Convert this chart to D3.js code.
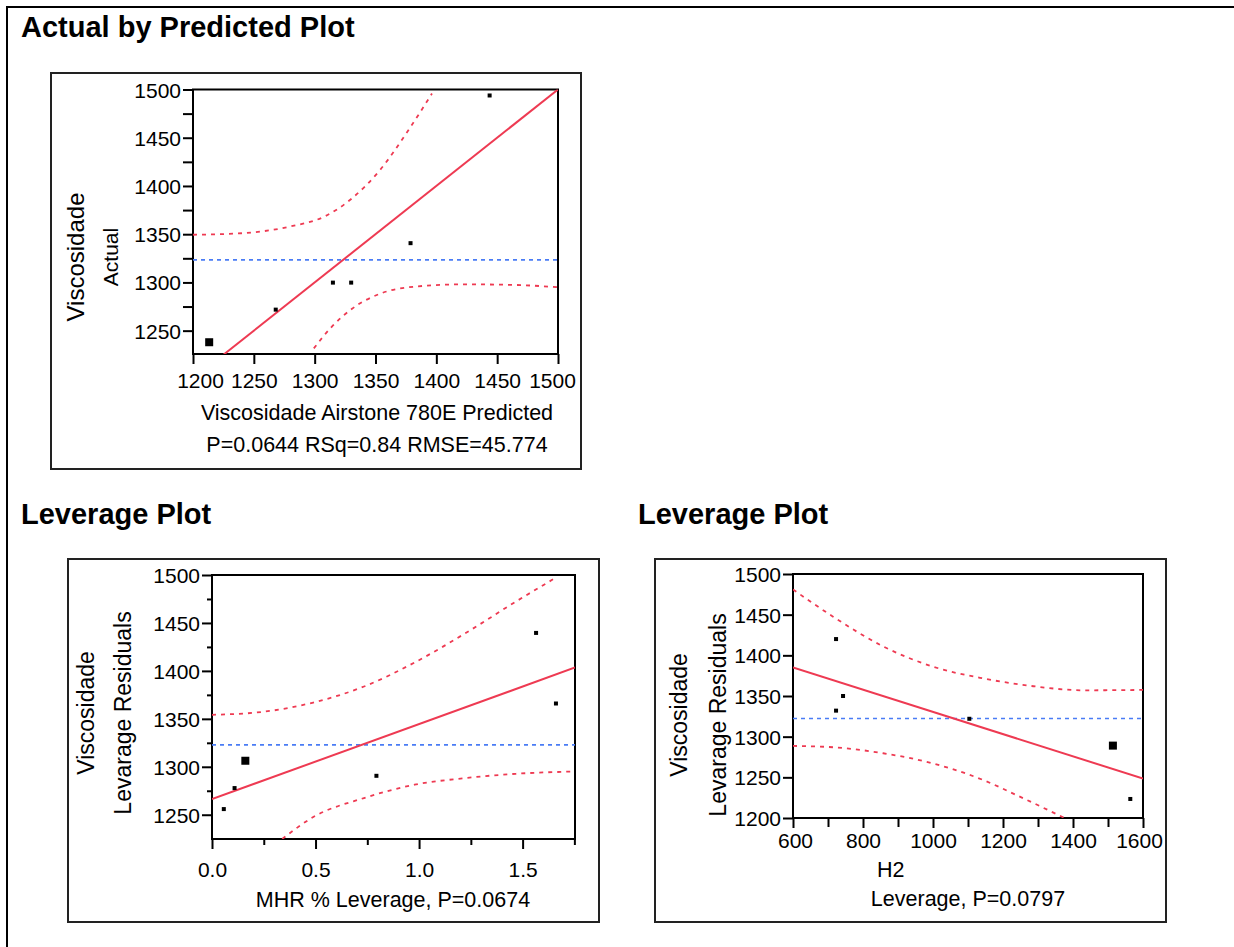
<!DOCTYPE html>
<html>
<head>
<meta charset="utf-8">
<script src="https://cdn.jsdelivr.net/npm/d3@7"></script>
<style>
  body { margin: 0; background: #fff; }
  svg text { font-family: "Liberation Sans", Arial, sans-serif; fill: #000; }
</style>
</head>
<body>
<div id="chart"></div>
<script>
/* DATA */

// Actual by Predicted
var apPred    = [1213.3, 1268, 1315, 1330, 1378.8, 1443.8];
var apActual  = [1238, 1271.8, 1299.8, 1299.8, 1340.7, 1493.8];
var apWeight  = [2, 1, 1, 1, 1, 1];
var apMean    = 1323.4;
var apFitX    = [1200, 1500];
var apFitY    = [1200, 1500];
var apUpperX  = [1200, 1240, 1280, 1308.4, 1331, 1354, 1376.6, 1396.4];
var apUpperY  = [1349.4, 1351, 1358, 1368.5, 1387.5, 1417, 1457, 1495.8];
var apLowerX  = [1299.3, 1314, 1331, 1354, 1382, 1422, 1464.5, 1500];
var apLowerY  = [1231.6, 1254, 1273, 1288.4, 1295.6, 1298, 1297.4, 1295];
var apXTicks  = [1200, 1250, 1300, 1350, 1400, 1450, 1500];
var apYTicks  = [1250, 1300, 1350, 1400, 1450, 1500];

// Leverage plot: MHR %
var mhrX      = [0.057, 0.109, 0.161, 0.794, 1.565, 1.661];
var mhrY      = [1255.9, 1277.8, 1306.3, 1290.6, 1439.6, 1366];
var mhrWeight = [1, 1, 2, 1, 1, 1];
var mhrMean   = 1322.9;
var mhrFitX   = [0, 1.753];
var mhrFitY   = [1266.3, 1403.5];
var mhrUpperX = [0, 0.245, 0.489, 0.734, 0.978, 1.223, 1.467, 1.647];
var mhrUpperY = [1354.2, 1357.3, 1367, 1383.7, 1408.7, 1439.2, 1472.2, 1495.5];
var mhrLowerX = [0.339, 0.489, 0.734, 0.978, 1.223, 1.467, 1.753];
var mhrLowerY = [1224.7, 1247.6, 1267.4, 1281.3, 1288.2, 1292.7, 1295.1];
var mhrXTicks = [0, 0.5, 1.0, 1.5];
var mhrXMinor = [0.25, 0.75, 1.25, 1.75];
var mhrYTicks = [1250, 1300, 1350, 1400, 1450, 1500];

// Leverage plot: H2
var h2X       = [723, 743, 723, 1103.8, 1514, 1563.7];
var h2Y       = [1420, 1350, 1332, 1322, 1289, 1223.4];
var h2Weight  = [1, 1, 1, 1, 2, 1];
var h2Mean    = 1322.3;
var h2FitX    = [600, 1600];
var h2FitY    = [1385, 1248.5];
var h2UpperX  = [600, 714.5, 857.6, 1000.8, 1143.9, 1287, 1430, 1600];
var h2UpperY  = [1481, 1447.5, 1411, 1386, 1371.6, 1362, 1357, 1357.5];
var h2LowerX  = [600, 714.5, 857.6, 1000.8, 1143.9, 1239.3, 1375.8];
var h2LowerY  = [1288.6, 1287, 1279.6, 1267, 1246.6, 1228, 1200];
var h2XTicks  = [600, 800, 1000, 1200, 1400, 1600];
var h2XMinor  = [700, 900, 1100, 1300, 1500];
var h2YTicks  = [1200, 1250, 1300, 1350, 1400, 1450, 1500];

var RED = "#ee3a52";
var BLUE = "#4a7cf5";

/* SVG CANVAS */
var width = 1234, height = 947;
var svg = d3.select("#chart")
    .append("svg")
    .attr("width", width)
    .attr("height", height);

// outer report frame
svg.append("path")
    .attr("d", "M7," + height + "V7H" + width)
    .attr("fill", "none")
    .attr("stroke", "#000")
    .attr("stroke-width", 2);

// section titles
svg.append("text").attr("x", 21).attr("y", 37)
    .style("font-weight", "bold").style("font-size", "29px")
    .text("Actual by Predicted Plot");
svg.append("text").attr("x", 21).attr("y", 524)
    .style("font-weight", "bold").style("font-size", "29px")
    .text("Leverage Plot");
svg.append("text").attr("x", 638).attr("y", 524)
    .style("font-weight", "bold").style("font-size", "29px")
    .text("Leverage Plot");

function zip(xs, ys) {
    return xs.map(function(x, i) { return [x, ys[i]]; });
}

var panelId = 0;
function drawPanel(p) {
    panelId++;
    // framed box around the plot
    svg.append("rect")
        .attr("x", p.box[0]).attr("y", p.box[1])
        .attr("width", p.box[2] - p.box[0]).attr("height", p.box[3] - p.box[1])
        .attr("fill", "none").attr("stroke", "#222").attr("stroke-width", 2);

    var x = d3.scaleLinear().domain(p.xDomain).range([p.plot[0], p.plot[2]]);
    var y = d3.scaleLinear().domain(p.yDomain).range([p.plot[3], p.plot[1]]);

    var clipId = "clip" + panelId;
    svg.append("clipPath").attr("id", clipId)
        .append("rect")
        .attr("x", p.plot[0]).attr("y", p.plot[1])
        .attr("width", p.plot[2] - p.plot[0]).attr("height", p.plot[3] - p.plot[1]);

    // y axis
    var yAxis = d3.axisLeft(y).tickValues(p.yTicks).tickSize(p.tickLen).tickPadding(2)
        .tickFormat(d3.format("d"));
    var gy = svg.append("g")
        .attr("transform", "translate(" + p.plot[0] + ",0)")
        .call(yAxis);
    if (p.yMinor) {
        svg.append("g")
            .attr("transform", "translate(" + p.plot[0] + ",0)")
            .call(d3.axisLeft(y).tickValues(p.yMinor).tickSize(p.yMinorLen).tickFormat(""))
            .call(function(g) { g.select(".domain").remove(); });
    }
    // x axis
    var xAxis = d3.axisBottom(x).tickValues(p.xTicks).tickSize(p.tickLen).tickPadding(4)
        .tickFormat(p.xFormat);
    var gx = svg.append("g")
        .attr("transform", "translate(0," + p.plot[3] + ")")
        .call(xAxis);
    if (p.xMinor) {
        svg.append("g")
            .attr("transform", "translate(0," + p.plot[3] + ")")
            .call(d3.axisBottom(x).tickValues(p.xMinor).tickSize(p.xMinorLen).tickFormat(""))
            .call(function(g) { g.select(".domain").remove(); });
    }
    svg.selectAll(".tick line").attr("stroke", "#000").attr("stroke-width", 2);
    [gx, gy].forEach(function(g) {
        g.select(".domain").remove();
        g.selectAll("text").style("font-size", "21px").attr("fill", "#000");
    });
    gy.selectAll("text").attr("dy", "0.36em");
    gx.selectAll("text").attr("dy", "0").attr("y", p.xLabelBase - p.plot[3]);
    if (p.xEndShift) {
        var xt = gx.selectAll("text").nodes();
        d3.select(xt[0]).attr("dx", p.xEndShift[0]);
        d3.select(xt[xt.length - 1]).attr("dx", p.xEndShift[1]);
    }

    // plot frame
    svg.append("rect")
        .attr("x", p.plot[0]).attr("y", p.plot[1])
        .attr("width", p.plot[2] - p.plot[0]).attr("height", p.plot[3] - p.plot[1])
        .attr("fill", "none").attr("stroke", "#000").attr("stroke-width", 2);

    var line = d3.line()
        .x(function(d) { return x(d[0]); })
        .y(function(d) { return y(d[1]); });
    var curve = d3.line()
        .x(function(d) { return x(d[0]); })
        .y(function(d) { return y(d[1]); })
        .curve(d3.curveMonotoneX);

    var g = svg.append("g").attr("clip-path", "url(#" + clipId + ")");

    // mean line
    g.append("path")
        .attr("d", line([[p.xDomain[0], p.mean], [p.xDomain[1], p.mean]]))
        .attr("stroke", BLUE).attr("stroke-width", 1.6)
        .attr("stroke-dasharray", "4,4").attr("fill", "none");

    // confidence curves
    [p.upper, p.lower].forEach(function(c) {
        g.append("path")
            .attr("d", curve(c))
            .attr("stroke", RED).attr("stroke-width", 1.8)
            .attr("stroke-dasharray", "4,5").attr("fill", "none");
    });

    // fit line
    g.append("path")
        .attr("d", line(p.fit))
        .attr("stroke", RED).attr("stroke-width", 2).attr("fill", "none");

    // points
    var sScale = d3.scaleLinear().domain([1, 2]).range([4, 8]);
    svg.append("g").selectAll("rect")
        .data(p.points)
        .enter()
        .append("rect")
            .attr("x", function(d) { return x(d[0]) - sScale(d[2]) / 2; })
            .attr("y", function(d) { return y(d[1]) - sScale(d[2]) / 2; })
            .attr("width", function(d) { return sScale(d[2]); })
            .attr("height", function(d) { return sScale(d[2]); })
            .attr("fill", "#000");

    // axis titles
    p.yLabels.forEach(function(l) {
        svg.append("text")
            .attr("transform", "translate(" + l[0] + "," + l[1] + ") rotate(-90)")
            .attr("text-anchor", "middle")
            .style("font-size", l[3] + "px")
            .text(l[2]);
    });
    p.xLabels.forEach(function(l) {
        svg.append("text")
            .attr("x", l[0]).attr("y", l[1])
            .attr("text-anchor", l[4] || "middle")
            .style("font-size", l[3] + "px")
            .text(l[2]);
    });
}

/* ACTUAL BY PREDICTED */
drawPanel({
    box: [51, 73, 581, 469],
    plot: [193, 89.5, 558, 354],
    xDomain: [1200, 1500],
    yDomain: [1225.8, 1500],
    xTicks: apXTicks,
    yTicks: apYTicks,
    yMinor: [1275, 1325, 1375, 1425, 1475],
    yMinorLen: 10,
    tickLen: 10,
    xFormat: d3.format("d"),
    xLabelBase: 388,
    xEndShift: [7, -6],
    mean: apMean,
    fit: zip(apFitX, apFitY),
    upper: zip(apUpperX, apUpperY),
    lower: zip(apLowerX, apLowerY),
    points: apPred.map(function(v, i) { return [v, apActual[i], apWeight[i]]; }),
    yLabels: [[84, 257, "Viscosidade", 24], [118, 257, "Actual", 21]],
    xLabels: [[377, 420, "Viscosidade Airstone 780E Predicted", 21.5],
              [377, 452, "P=0.0644 RSq=0.84 RMSE=45.774", 21.5]]
});

/* LEVERAGE: MHR % */
drawPanel({
    box: [68, 559, 599, 922],
    plot: [212, 575, 575, 839],
    xDomain: [0, 1.753],
    yDomain: [1224.7, 1500],
    xTicks: mhrXTicks,
    xMinor: mhrXMinor,
    xMinorLen: 6,
    yTicks: mhrYTicks,
    yMinor: [1275, 1325, 1375, 1425, 1475],
    yMinorLen: 5,
    tickLen: 10,
    xFormat: d3.format(".1f"),
    xLabelBase: 877,
    mean: mhrMean,
    fit: zip(mhrFitX, mhrFitY),
    upper: zip(mhrUpperX, mhrUpperY),
    lower: zip(mhrLowerX, mhrLowerY),
    points: mhrX.map(function(v, i) { return [v, mhrY[i], mhrWeight[i]]; }),
    yLabels: [[94, 713, "Viscosidade", 23], [131, 713, "Levarage Residuals", 23]],
    xLabels: [[393, 907, "MHR % Leverage, P=0.0674", 21.5]]
});

/* LEVERAGE: H2 */
drawPanel({
    box: [655, 559, 1166, 922],
    plot: [793, 574, 1143, 818],
    xDomain: [600, 1600],
    yDomain: [1200, 1500],
    xTicks: h2XTicks,
    xMinor: h2XMinor,
    xMinorLen: 9,
    yTicks: h2YTicks,
    tickLen: 10,
    xFormat: d3.format("d"),
    xLabelBase: 848,
    xEndShift: [2, -4],
    mean: h2Mean,
    fit: zip(h2FitX, h2FitY),
    upper: zip(h2UpperX, h2UpperY),
    lower: zip(h2LowerX, h2LowerY),
    points: h2X.map(function(v, i) { return [v, h2Y[i], h2Weight[i]]; }),
    yLabels: [[687, 715, "Viscosidade", 23], [726, 715, "Levarage Residuals", 23]],
    xLabels: [[877, 877, "H2", 21.5, "start"],
              [968, 906, "Leverage, P=0.0797", 21.5]]
});
</script>
</body>
</html>
